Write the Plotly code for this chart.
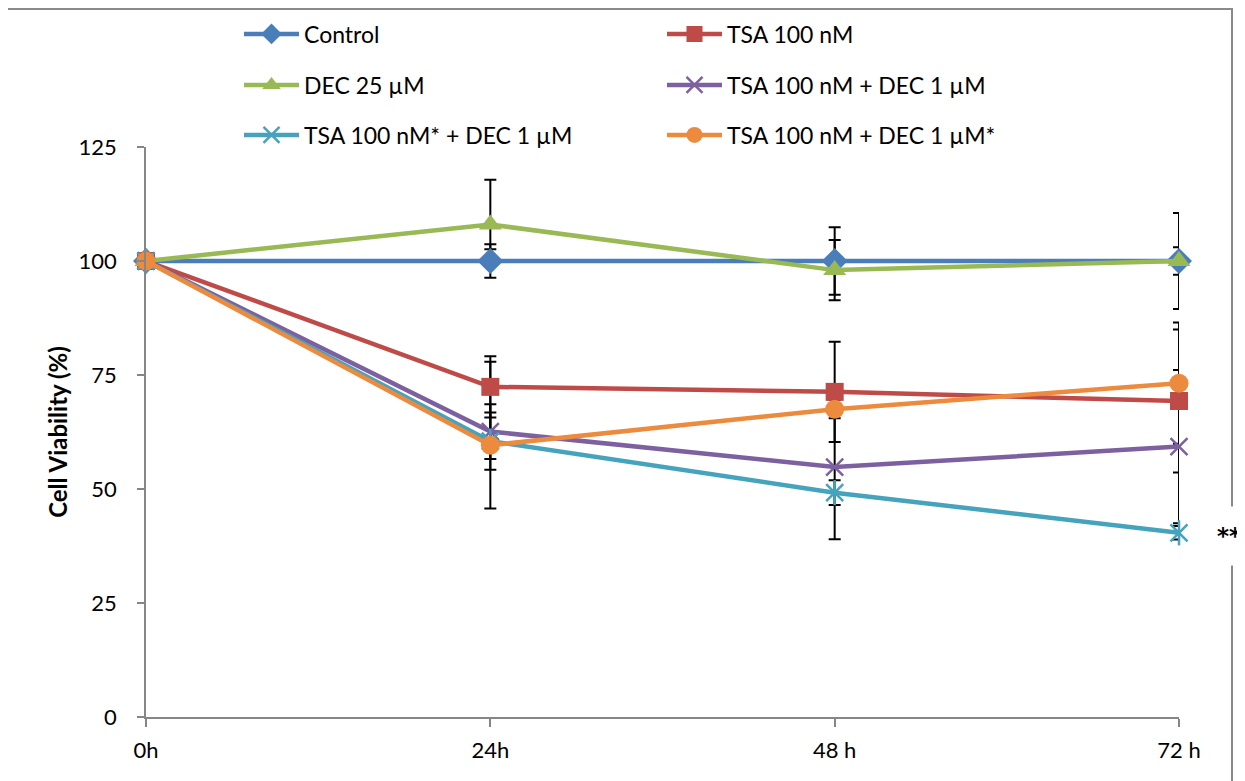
import plotly.graph_objects as go

# ---- data ----
timepoints = ["0h", "24h", "48 h", "72 h"]

control = [100, 100, 100, 100]
control_err = [0, 3.65, 7.4, 10.5]

tsa = [100, 72.4, 71.3, 69.3]
tsa_err = [0, 6.7, 11.0, 15.7]

dec = [100, 108.0, 98.0, 100.0]
dec_err_plus = [0, 9.8, 6.6, 3.0]
dec_err_minus = [0, 5.4, 6.6, 3.0]

tsa_dec = [100, 62.6, 54.8, 59.3]
tsa_dec_err = [0, 6.0, 15.8, 16.8]

tsa_star_dec = [100, 60.5, 49.2, 40.4]
tsa_star_dec_err = [0, 6.3, 2.7, 1.5]

tsa_dec_star = [100, 59.6, 67.5, 73.2]
tsa_dec_star_err_plus = [0, 18.3, 2.0, 13.3]
tsa_dec_star_err_minus = [0, 13.9, 2.0, 13.3]

y_ticks = [0, 25, 50, 75, 100, 125]

FONT = "Lato"

series = [
    dict(name="Control", y=control, ep=control_err, em=control_err,
         color="#4A7EBB", symbol="diamond", size=20, legend="legend"),
    dict(name="TSA 100 nM", y=tsa, ep=tsa_err, em=tsa_err,
         color="#BE4B48", symbol="square", size=18, legend="legend"),
    dict(name="DEC 25 µM", y=dec, ep=dec_err_plus, em=dec_err_minus,
         color="#98B954", symbol="triangle-up", size=20, legend="legend2"),
    dict(name="TSA 100 nM + DEC 1 µM", y=tsa_dec, ep=tsa_dec_err, em=tsa_dec_err,
         color="#7D60A0", symbol="x-thin-open", size=17, legend="legend2"),
    dict(name="TSA 100 nM* + DEC 1 µM", y=tsa_star_dec, ep=tsa_star_dec_err, em=tsa_star_dec_err,
         color="#45A3BD", symbol="x-thin-open", size=17, legend="legend3"),
    dict(name="TSA 100 nM + DEC 1 µM*", y=tsa_dec_star, ep=tsa_dec_star_err_plus, em=tsa_dec_star_err_minus,
         color="#EC8A3E", symbol="circle", size=19, legend="legend3"),
]

fig = go.Figure()

# error bars first (under all lines/markers)
for s in series:
    fig.add_trace(go.Scatter(
        x=timepoints, y=s["y"], mode="markers", cliponaxis=False,
        marker=dict(size=1, color="rgba(0,0,0,0)"),
        error_y=dict(type="data", symmetric=False, array=s["ep"], arrayminus=s["em"],
                     color="black", thickness=2, width=6),
        showlegend=False, hoverinfo="skip"))

for s in series:
    open_sym = s["symbol"].endswith("open")
    marker = dict(symbol=s["symbol"], size=s["size"], color=s["color"],
                  line=dict(color=s["color"], width=2.5 if open_sym else 0))
    fig.add_trace(go.Scatter(
        x=timepoints, y=s["y"], mode="lines+markers", name=s["name"], cliponaxis=False,
        line=dict(color=s["color"], width=4.5), marker=marker,
        legend=s["legend"]))
    if s["name"] == "TSA 100 nM* + DEC 1 µM":
        fig.add_trace(go.Scatter(
            x=timepoints, y=s["y"], mode="markers", showlegend=False, cliponaxis=False,
            marker=dict(symbol="line-ns-open", size=18, color=s["color"],
                        line=dict(color=s["color"], width=2.5)),
            hoverinfo="skip"))

# page body has an 8px margin; the figure is placed at (8, 8)
OFF = 8
L, R, T, B = 146 - OFF, 66, 147 - OFF, 64
W, H = 1245 - OFF, 781 - OFF
pw, ph = W - L - R, H - T - B

def px_x(p):
    return (p - OFF - L) / pw

def px_y(p):
    return (H - B - (p - OFF)) / ph

legend_common = dict(orientation="h", xanchor="left", yanchor="middle",
                     font=dict(family=FONT, size=23, color="black"),
                     itemwidth=55, entrywidth=353, entrywidthmode="pixels",
                     bgcolor="rgba(0,0,0,0)", traceorder="normal")

fig.update_layout(
    width=W, height=H,
    margin=dict(l=L, r=R, t=T, b=B, autoexpand=False),
    paper_bgcolor="white", plot_bgcolor="white",
    font=dict(family=FONT, color="black"),
    legend=dict(x=px_x(239), y=px_y(34), **legend_common),
    legend2=dict(x=px_x(239), y=px_y(85), **legend_common),
    legend3=dict(x=px_x(239), y=px_y(135), **legend_common),
    xaxis=dict(type="category", range=[0, 3], showgrid=False, zeroline=False,
               showline=True, linecolor="#868686", linewidth=1.5,
               ticks="outside", ticklen=8, tickcolor="#868686", tickwidth=1.5,
               ticklabelstandoff=5,
               tickfont=dict(family=FONT, size=22, color="black"),
               fixedrange=True),
    yaxis=dict(range=[0, 125], tickvals=y_ticks, showgrid=False, zeroline=False,
               showline=True, linecolor="#868686", linewidth=1.5,
               ticks="outside", ticklen=7, tickcolor="#868686", tickwidth=1.5,
               ticklabelstandoff=16,
               tickfont=dict(family=FONT, size=22, color="black"),
               title=dict(text="<b>Cell Viability (%)</b>",
                          font=dict(family=FONT, size=24, color="black"),
                          standoff=4)),
    shapes=[dict(type="rect", xref="paper", yref="paper",
                 x0=px_x(7), x1=px_x(1232), y0=px_y(800), y1=px_y(9),
                 line=dict(color="#8A8A8A", width=2), layer="below")],
    annotations=[dict(x=3, y=tsa_star_dec[3], xref="x", yref="y", text="<b>**</b>",
                      showarrow=False, xshift=50, yshift=-3,
                      font=dict(family="DejaVu Sans", size=23, color="black"),
                      bgcolor="white", borderpad=16)],
)

fig.write_html("out.html")
